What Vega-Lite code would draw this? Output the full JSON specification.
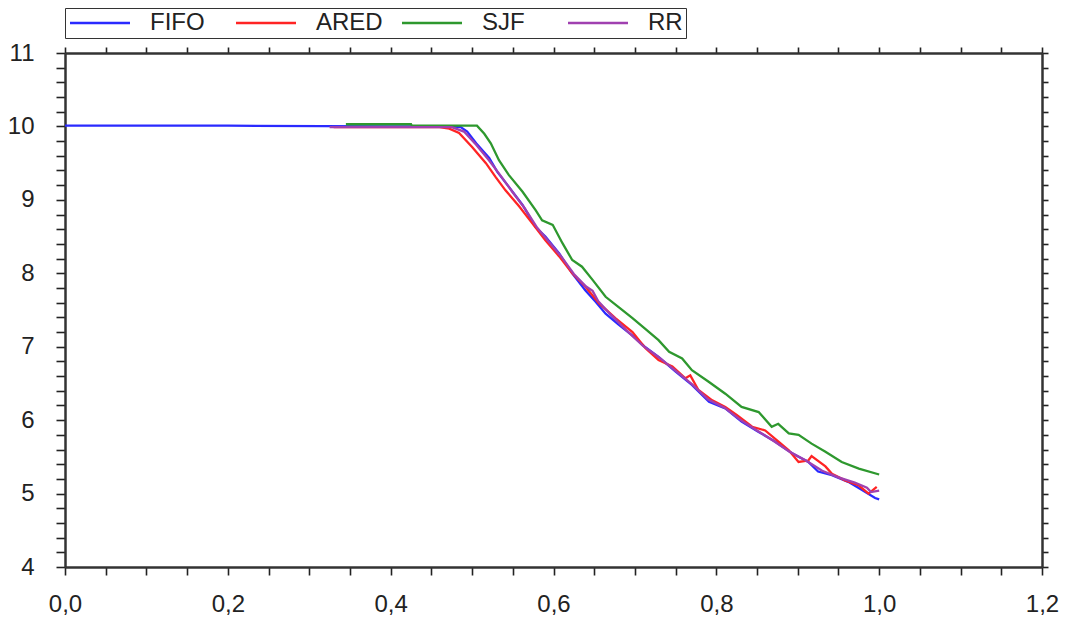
{
  "$schema": "https://vega.github.io/schema/vega-lite/v6.json",
  "autosize": {"type": "none"},
  "padding": {"left": 65, "top": 53, "right": 23, "bottom": 53},
  "width": 977,
  "height": 514,
  "background": "white",
  "config": {
    "view": {"stroke": null},
    "font": "Liberation Sans",
    "axis": {"domainColor": "#333333", "domainWidth": 2.5, "tickColor": "#222222", "tickWidth": 1.6, "grid": false, "labelFont": "Liberation Sans", "labelFontSize": 24, "labelColor": "#222222", "labelOverlap": false, "labelBound": false, "labelFlush": false, "title": null}
  },
  "data": {"values": [
    {"x": 0.0, "y": 10.01, "s": "FIFO"},
    {"x": 0.2, "y": 10.01, "s": "FIFO"},
    {"x": 0.4, "y": 10.0, "s": "FIFO"},
    {"x": 0.47, "y": 10.0, "s": "FIFO"},
    {"x": 0.486, "y": 9.99, "s": "FIFO"},
    {"x": 0.494, "y": 9.93, "s": "FIFO"},
    {"x": 0.505, "y": 9.77, "s": "FIFO"},
    {"x": 0.521, "y": 9.57, "s": "FIFO"},
    {"x": 0.531, "y": 9.38, "s": "FIFO"},
    {"x": 0.545, "y": 9.18, "s": "FIFO"},
    {"x": 0.562, "y": 8.93, "s": "FIFO"},
    {"x": 0.578, "y": 8.63, "s": "FIFO"},
    {"x": 0.59, "y": 8.5, "s": "FIFO"},
    {"x": 0.607, "y": 8.27, "s": "FIFO"},
    {"x": 0.623, "y": 8.0, "s": "FIFO"},
    {"x": 0.639, "y": 7.77, "s": "FIFO"},
    {"x": 0.652, "y": 7.61, "s": "FIFO"},
    {"x": 0.664, "y": 7.45, "s": "FIFO"},
    {"x": 0.68, "y": 7.3, "s": "FIFO"},
    {"x": 0.697, "y": 7.15, "s": "FIFO"},
    {"x": 0.712, "y": 7.0, "s": "FIFO"},
    {"x": 0.729, "y": 6.86, "s": "FIFO"},
    {"x": 0.75, "y": 6.66, "s": "FIFO"},
    {"x": 0.77, "y": 6.48, "s": "FIFO"},
    {"x": 0.791, "y": 6.25, "s": "FIFO"},
    {"x": 0.811, "y": 6.16, "s": "FIFO"},
    {"x": 0.831, "y": 5.98, "s": "FIFO"},
    {"x": 0.852, "y": 5.84, "s": "FIFO"},
    {"x": 0.872, "y": 5.71, "s": "FIFO"},
    {"x": 0.893, "y": 5.55, "s": "FIFO"},
    {"x": 0.913, "y": 5.43, "s": "FIFO"},
    {"x": 0.925, "y": 5.3, "s": "FIFO"},
    {"x": 0.942, "y": 5.25, "s": "FIFO"},
    {"x": 0.962, "y": 5.16, "s": "FIFO"},
    {"x": 0.979, "y": 5.05, "s": "FIFO"},
    {"x": 0.995, "y": 4.94, "s": "FIFO"},
    {"x": 1.0, "y": 4.92, "s": "FIFO"},

    {"x": 0.33, "y": 9.99, "s": "ARED"},
    {"x": 0.46, "y": 9.99, "s": "ARED"},
    {"x": 0.472, "y": 9.97, "s": "ARED"},
    {"x": 0.484, "y": 9.91, "s": "ARED"},
    {"x": 0.5, "y": 9.72, "s": "ARED"},
    {"x": 0.517, "y": 9.5, "s": "ARED"},
    {"x": 0.529, "y": 9.31, "s": "ARED"},
    {"x": 0.541, "y": 9.13, "s": "ARED"},
    {"x": 0.558, "y": 8.91, "s": "ARED"},
    {"x": 0.574, "y": 8.68, "s": "ARED"},
    {"x": 0.59, "y": 8.45, "s": "ARED"},
    {"x": 0.607, "y": 8.23, "s": "ARED"},
    {"x": 0.623, "y": 8.0, "s": "ARED"},
    {"x": 0.639, "y": 7.82, "s": "ARED"},
    {"x": 0.656, "y": 7.59, "s": "ARED"},
    {"x": 0.676, "y": 7.39, "s": "ARED"},
    {"x": 0.697, "y": 7.2, "s": "ARED"},
    {"x": 0.713, "y": 6.98, "s": "ARED"},
    {"x": 0.729, "y": 6.82, "s": "ARED"},
    {"x": 0.746, "y": 6.73, "s": "ARED"},
    {"x": 0.762, "y": 6.57, "s": "ARED"},
    {"x": 0.768, "y": 6.61, "s": "ARED"},
    {"x": 0.778, "y": 6.41, "s": "ARED"},
    {"x": 0.795, "y": 6.27, "s": "ARED"},
    {"x": 0.811, "y": 6.18, "s": "ARED"},
    {"x": 0.825, "y": 6.07, "s": "ARED"},
    {"x": 0.844, "y": 5.91, "s": "ARED"},
    {"x": 0.86, "y": 5.86, "s": "ARED"},
    {"x": 0.876, "y": 5.71, "s": "ARED"},
    {"x": 0.889, "y": 5.59, "s": "ARED"},
    {"x": 0.901, "y": 5.43, "s": "ARED"},
    {"x": 0.913, "y": 5.45, "s": "ARED"},
    {"x": 0.917, "y": 5.51, "s": "ARED"},
    {"x": 0.934, "y": 5.37, "s": "ARED"},
    {"x": 0.942, "y": 5.27, "s": "ARED"},
    {"x": 0.958, "y": 5.18, "s": "ARED"},
    {"x": 0.975, "y": 5.11, "s": "ARED"},
    {"x": 0.987, "y": 5.0, "s": "ARED"},
    {"x": 0.997, "y": 5.09, "s": "ARED"},

    {"x": 0.345, "y": 10.03, "s": "SJF"},
    {"x": 0.425, "y": 10.03, "s": "SJF"},
    {"x": 0.426, "y": 10.01, "s": "SJF"},
    {"x": 0.506, "y": 10.01, "s": "SJF"},
    {"x": 0.515, "y": 9.9, "s": "SJF"},
    {"x": 0.523, "y": 9.77, "s": "SJF"},
    {"x": 0.533, "y": 9.54, "s": "SJF"},
    {"x": 0.545, "y": 9.34, "s": "SJF"},
    {"x": 0.562, "y": 9.11, "s": "SJF"},
    {"x": 0.578, "y": 8.86, "s": "SJF"},
    {"x": 0.586, "y": 8.72, "s": "SJF"},
    {"x": 0.599, "y": 8.66, "s": "SJF"},
    {"x": 0.611, "y": 8.41, "s": "SJF"},
    {"x": 0.623, "y": 8.18, "s": "SJF"},
    {"x": 0.635, "y": 8.09, "s": "SJF"},
    {"x": 0.648, "y": 7.91, "s": "SJF"},
    {"x": 0.664, "y": 7.68, "s": "SJF"},
    {"x": 0.68, "y": 7.54, "s": "SJF"},
    {"x": 0.697, "y": 7.39, "s": "SJF"},
    {"x": 0.712, "y": 7.25, "s": "SJF"},
    {"x": 0.729, "y": 7.09, "s": "SJF"},
    {"x": 0.742, "y": 6.93, "s": "SJF"},
    {"x": 0.758, "y": 6.84, "s": "SJF"},
    {"x": 0.77, "y": 6.68, "s": "SJF"},
    {"x": 0.791, "y": 6.52, "s": "SJF"},
    {"x": 0.811, "y": 6.36, "s": "SJF"},
    {"x": 0.831, "y": 6.18, "s": "SJF"},
    {"x": 0.852, "y": 6.11, "s": "SJF"},
    {"x": 0.868, "y": 5.91, "s": "SJF"},
    {"x": 0.876, "y": 5.95, "s": "SJF"},
    {"x": 0.889, "y": 5.82, "s": "SJF"},
    {"x": 0.901, "y": 5.8, "s": "SJF"},
    {"x": 0.917, "y": 5.68, "s": "SJF"},
    {"x": 0.934, "y": 5.57, "s": "SJF"},
    {"x": 0.954, "y": 5.43, "s": "SJF"},
    {"x": 0.975, "y": 5.34, "s": "SJF"},
    {"x": 1.0, "y": 5.26, "s": "SJF"},

    {"x": 0.325, "y": 9.99, "s": "RR"},
    {"x": 0.475, "y": 9.99, "s": "RR"},
    {"x": 0.49, "y": 9.93, "s": "RR"},
    {"x": 0.505, "y": 9.75, "s": "RR"},
    {"x": 0.52, "y": 9.55, "s": "RR"},
    {"x": 0.535, "y": 9.33, "s": "RR"},
    {"x": 0.55, "y": 9.1, "s": "RR"},
    {"x": 0.565, "y": 8.88, "s": "RR"},
    {"x": 0.58, "y": 8.62, "s": "RR"},
    {"x": 0.595, "y": 8.42, "s": "RR"},
    {"x": 0.61, "y": 8.22, "s": "RR"},
    {"x": 0.625, "y": 7.99, "s": "RR"},
    {"x": 0.64, "y": 7.82, "s": "RR"},
    {"x": 0.648, "y": 7.76, "s": "RR"},
    {"x": 0.655, "y": 7.62, "s": "RR"},
    {"x": 0.67, "y": 7.44, "s": "RR"},
    {"x": 0.69, "y": 7.22, "s": "RR"},
    {"x": 0.71, "y": 7.01, "s": "RR"},
    {"x": 0.73, "y": 6.85, "s": "RR"},
    {"x": 0.75, "y": 6.67, "s": "RR"},
    {"x": 0.77, "y": 6.49, "s": "RR"},
    {"x": 0.79, "y": 6.28, "s": "RR"},
    {"x": 0.81, "y": 6.17, "s": "RR"},
    {"x": 0.83, "y": 6.0, "s": "RR"},
    {"x": 0.85, "y": 5.86, "s": "RR"},
    {"x": 0.87, "y": 5.72, "s": "RR"},
    {"x": 0.89, "y": 5.57, "s": "RR"},
    {"x": 0.91, "y": 5.45, "s": "RR"},
    {"x": 0.93, "y": 5.31, "s": "RR"},
    {"x": 0.95, "y": 5.22, "s": "RR"},
    {"x": 0.97, "y": 5.15, "s": "RR"},
    {"x": 0.985, "y": 5.08, "s": "RR"},
    {"x": 0.99, "y": 5.02, "s": "RR"},
    {"x": 1.0, "y": 5.04, "s": "RR"}
  ]},
  "resolve": {"axis": {"x": "independent", "y": "independent"}},
  "layer": [
    {
      "mark": {"type": "line", "opacity": 0},
      "encoding": {
        "x": {"field": "x", "type": "quantitative", "scale": {"domain": [0, 1.2], "nice": false, "zero": false},
          "axis": {"orient": "top", "labels": false, "tickSize": 6,
            "values": [0, 0.05, 0.1, 0.15, 0.2, 0.25, 0.3, 0.35, 0.4, 0.45, 0.5, 0.55, 0.6, 0.65, 0.7, 0.75, 0.8, 0.85, 0.9, 0.95, 1.0, 1.05, 1.1, 1.15, 1.2],
            "encode": {"ticks": {"y": {"value": 0}, "y2": {"condition": {"test": "abs(datum.value*5 - round(datum.value*5)) < 0.000001", "value": 11}, "value": 6}}}}},
        "y": {"field": "y", "type": "quantitative", "scale": {"domain": [4, 11], "nice": false, "zero": false},
          "axis": {"orient": "right", "labels": false, "tickSize": 6,
            "values": [4, 4.2, 4.4, 4.6, 4.8, 5, 5.2, 5.4, 5.6, 5.8, 6, 6.2, 6.4, 6.6, 6.8, 7, 7.2, 7.4, 7.6, 7.8, 8, 8.2, 8.4, 8.6, 8.8, 9, 9.2, 9.4, 9.6, 9.8, 10, 10.2, 10.4, 10.6, 10.8, 11],
            "encode": {"ticks": {"x": {"value": 0}, "x2": {"condition": {"test": "abs(datum.value - round(datum.value)) < 0.000001", "value": -10}, "value": -6}}}}}
      }
    },
    {
      "mark": {"type": "line", "strokeWidth": 2.3},
      "encoding": {
        "x": {"field": "x", "type": "quantitative", "scale": {"domain": [0, 1.2], "nice": false, "zero": false},
          "axis": {"orient": "bottom", "tickSize": 8, "labelPadding": 17,
            "values": [0, 0.05, 0.1, 0.15, 0.2, 0.25, 0.3, 0.35, 0.4, 0.45, 0.5, 0.55, 0.6, 0.65, 0.7, 0.75, 0.8, 0.85, 0.9, 0.95, 1.0, 1.05, 1.1, 1.15, 1.2],
            "labelExpr": "abs(datum.value*5 - round(datum.value*5)) < 0.000001 ? replace(format(datum.value, '.1f'), '.', ',') : ''",
            "encode": {"ticks": {"y": {"condition": {"test": "abs(datum.value*5 - round(datum.value*5)) < 0.000001", "value": -8}, "value": -5}, "y2": {"condition": {"test": "abs(datum.value*5 - round(datum.value*5)) < 0.000001", "value": 9}, "value": 6}}}}},
        "y": {"field": "y", "type": "quantitative", "scale": {"domain": [4, 11], "nice": false, "zero": false},
          "axis": {"orient": "left", "tickSize": 9, "labelPadding": 22,
            "values": [4, 4.2, 4.4, 4.6, 4.8, 5, 5.2, 5.4, 5.6, 5.8, 6, 6.2, 6.4, 6.6, 6.8, 7, 7.2, 7.4, 7.6, 7.8, 8, 8.2, 8.4, 8.6, 8.8, 9, 9.2, 9.4, 9.6, 9.8, 10, 10.2, 10.4, 10.6, 10.8, 11],
            "labelExpr": "abs(datum.value - round(datum.value)) < 0.000001 ? format(datum.value, 'd') : ''",
            "encode": {"ticks": {"x": {"condition": {"test": "abs(datum.value - round(datum.value)) < 0.000001", "value": -9}, "value": -5}, "x2": {"condition": {"test": "abs(datum.value - round(datum.value)) < 0.000001", "value": 8}, "value": 6}}}}},
        "color": {"field": "s", "type": "nominal",
          "scale": {"domain": ["FIFO", "ARED", "SJF", "RR"], "range": ["#2a2aff", "#ff2424", "#2e982e", "#a040b0"]},
          "legend": {"orient": "none", "legendX": 0, "legendY": -45, "direction": "horizontal", "columns": 4, "title": null,
            "symbolType": "M-1,0H5", "symbolSize": 400, "symbolStrokeWidth": 2.3, "labelFont": "Liberation Sans", "labelFontSize": 24, "labelColor": "#222222",
            "labelOffset": 58, "columnPadding": 14, "gridAlign": "all", "padding": 3, "fillColor": "white", "strokeColor": "#333333",
            "encode": {"legend": {"strokeWidth": {"value": 2.5}}}}},
        "order": {"field": "x", "type": "quantitative"}
      }
    }
  ]
}
